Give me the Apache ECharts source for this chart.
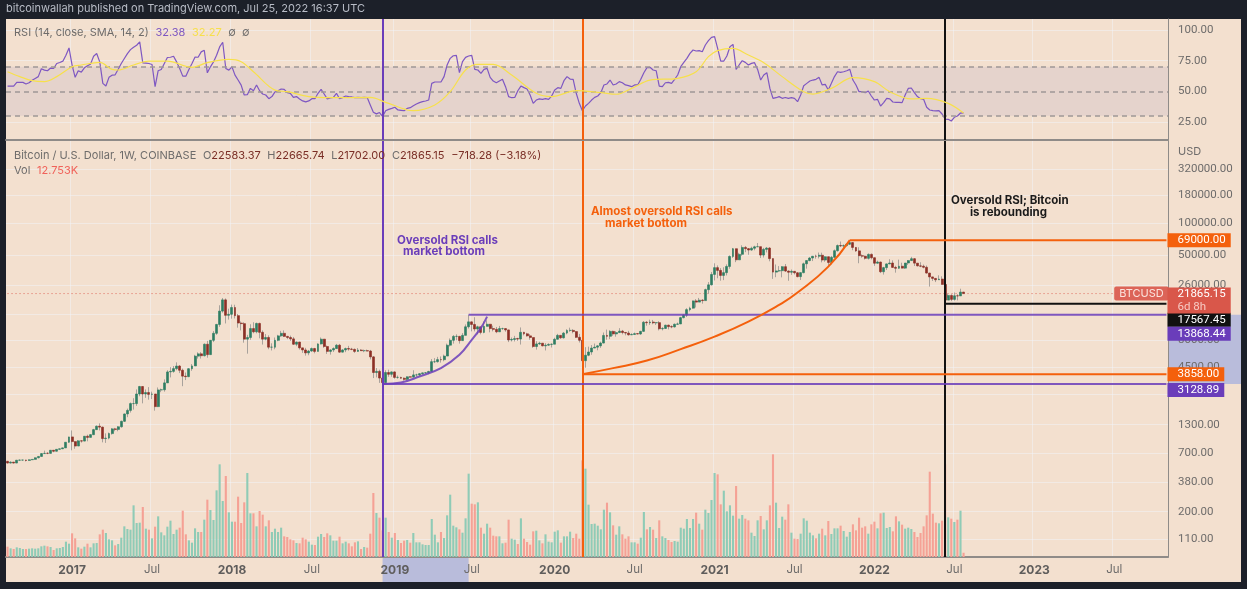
<!DOCTYPE html>
<html>
<head>
<meta charset="utf-8">
<title>BTCUSD weekly</title>
<script src="https://cdn.jsdelivr.net/npm/echarts@6/dist/echarts.min.js"></script>
<style>
    html, body { margin: 0; padding: 0; background: #1c2029; }
    #chart { width: 1247px; height: 589px; }
</style>
</head>
<body>
<div id="chart"></div>
<script>
// weekly candles, first one is the week of 2016-08-08
const opens = [
    592,570,581,570,606,608,608,603,612,617,639,657,699,
    703,702,751,735,766,775,790,892,1000,905,822,920,915,
    1015,990,1050,1170,1260,1235,965,975,1075,1190,1175,1245,1400,
    1640,1770,2050,2050,2520,2960,2520,2600,2500,2520,1920,2750,2760,
    3200,4050,4100,4350,4600,4200,3700,3660,4340,4610,5690,5980,5740,
    7350,5880,8000,9300,11250,15000,19100,13700,14000,16200,13600,11600,11450,
    8200,8500,10300,9600,11500,9500,8200,8500,6900,6900,8000,8800,9300,
    8700,8500,8250,7350,7700,6800,6500,6100,6350,6700,6300,7400,8200,
    7000,6300,6500,6700,7200,6200,6500,6700,6620,6580,6300,6490,6400,
    6400,6350,5600,4000,4100,3550,3220,4000,3850,4050,3600,3600,3540,
    3450,3650,3620,3800,3800,3900,3970,3980,4090,5050,5050,5280,5270,
    5700,7200,8000,8700,8700,7950,8900,10700,11900,11250,10200,10700,9480,
    10800,11300,10300,10130,9600,10300,10300,10000,8050,8150,8300,8220,9500,
    9200,8800,8500,7000,7400,7520,7100,7200,7320,7350,8180,8900,8440,
    9340,9900,9900,9660,8530,8000,5160,5800,6220,6770,6900,7100,7540,
    8880,8720,9700,9180,9450,9750,9460,9350,9000,9070,9230,9160,9700,
    11800,11680,11850,11650,11700,10250,10320,11080,10740,10670,11300,11370,13030,
    13750,15480,15970,18680,18200,19000,18800,23800,26400,33000,38200,36000,32300,
    34300,39200,48600,57400,45200,50900,59000,57500,55800,58000,59800,60000,50100,
    56600,58200,46400,34700,35600,35800,39000,35500,34600,35300,34200,31500,34300,
    41500,44500,47000,48900,48800,49900,45000,48300,42700,47700,55000,61500,60900,
    61300,63200,65500,59000,54800,49400,48900,46700,50800,47300,42000,43100,35000,
    38200,41400,42200,38400,37700,39400,37800,42200,44500,46300,42100,39700,39400,
    38500,34000,31300,30300,29400,29900,26600,19000,21000,19300,20850,20800,22583.37
];
const closes = [
    570,581,570,606,608,608,603,612,617,639,657,699,703,
    702,751,735,766,775,790,892,1000,905,822,920,915,1015,
    990,1050,1170,1260,1235,965,975,1075,1190,1175,1245,1400,1640,
    1770,2050,2050,2520,2960,2520,2600,2500,2520,1920,2750,2760,3200,
    4050,4100,4350,4600,4200,3700,3660,4340,4610,5690,5980,5740,7350,
    5880,8000,9300,11250,15000,19100,13700,14000,16200,13600,11600,11450,8200,
    8500,10300,9600,11500,9500,8200,8500,6900,6900,8000,8800,9300,8700,
    8500,8250,7350,7700,6800,6500,6100,6350,6700,6300,7400,8200,7000,
    6300,6500,6700,7200,6200,6500,6700,6620,6580,6300,6490,6400,6400,
    6350,5600,4000,4100,3550,3220,4000,3850,4050,3600,3600,3540,3450,
    3650,3620,3800,3800,3900,3970,3980,4090,5050,5050,5280,5270,5700,
    7200,8000,8700,8700,7950,8900,10700,11900,11250,10200,10700,9480,10800,
    11300,10300,10130,9600,10300,10300,10000,8050,8150,8300,8220,9500,9200,
    8800,8500,7000,7400,7520,7100,7200,7320,7350,8180,8900,8440,9340,
    9900,9900,9660,8530,8000,5160,5800,6220,6770,6900,7100,7540,8880,
    8720,9700,9180,9450,9750,9460,9350,9000,9070,9230,9160,9700,11800,
    11680,11850,11650,11700,10250,10320,11080,10740,10670,11300,11370,13030,13750,
    15480,15970,18680,18200,19000,18800,23800,26400,33000,38200,36000,32300,34300,
    39200,48600,57400,45200,50900,59000,57500,55800,58000,59800,60000,50100,56600,
    58200,46400,34700,35600,35800,39000,35500,34600,35300,34200,31500,34300,41500,
    44500,47000,48900,48800,49900,45000,48300,42700,47700,55000,61500,60900,61300,
    63200,65500,59000,54800,49400,48900,46700,50800,47300,42000,43100,35000,38200,
    41400,42200,38400,37700,39400,37800,42200,44500,46300,42100,39700,39400,38500,
    34000,31300,30300,29400,29900,26600,19000,21000,19300,20850,20800,22583.37,21865.15
];
const highs = [
    597,592,585,610,615,612,612,615,620,642,660,705,745,
    720,755,755,770,780,795,895,1005,1150,908,935,930,1020,
    1050,1060,1190,1280,1340,1250,1080,1100,1210,1215,1260,1420,1650,
    1840,2100,2300,2780,3000,2980,2780,2920,2650,2420,2900,2830,3450,
    4200,4480,4600,4980,4700,4350,4000,4400,4800,5850,6180,6200,7480,
    7900,8050,9750,11400,17000,19890,19700,15800,17250,17200,14100,12000,11800,
    9000,11300,11800,11700,11700,9900,9150,8900,7500,8500,9000,9800,9900,
    8800,8850,8600,7800,7750,6800,6800,6500,6850,6800,7500,8500,8250,
    7150,6600,6880,7400,7400,6600,6840,7100,6800,6700,6780,6620,6550,
    6550,6500,5700,4400,4250,3600,4200,4250,4100,4100,3750,3650,3600,
    3680,3700,4200,3900,3950,4000,4030,4150,5340,5450,5600,5650,5880,
    7450,8330,8950,9100,8800,9350,11250,13880,12000,13150,10950,10150,12000,
    12300,11400,10950,10650,10900,10500,10350,10050,8500,8800,8450,10550,9600,
    9400,9150,8400,7850,7750,7400,7520,7500,7500,8450,9190,8900,9570,
    10150,10500,10170,9700,9180,8180,6900,6980,7220,7460,7200,7760,9460,
    10070,9950,9850,9750,10390,10000,9580,9800,9300,9450,9330,9800,12100,
    12100,12480,12400,11800,12080,10640,11180,11200,11050,11480,11720,13250,14080,
    15970,16480,18800,19400,19920,19400,24300,28000,34800,41950,40100,37800,38500,
    41000,49700,58350,57500,52600,61800,60900,58300,60000,61200,64900,57500,58500,
    59600,59500,46600,40900,39500,39500,41300,36000,36700,35400,34700,34500,42600,
    44700,48100,49000,50500,52900,52700,48800,48400,49200,56500,62900,67000,63000,
    64300,69000,66300,59500,59200,50800,49500,51900,51900,47500,44400,43500,38900,
    41700,45800,44700,39800,45400,42500,42300,44900,48200,46900,41500,42900,40800,
    40000,34250,31400,30600,32400,31700,26900,21900,21550,22400,21550,24280,22665.74
];
const lows = [
    565,565,565,570,600,600,590,600,607,615,630,655,695,
    690,700,720,730,760,770,790,880,750,775,875,885,910,
    910,990,1040,1160,1150,890,880,950,1050,1130,1130,1220,1380,
    1530,1690,1800,1950,2400,2060,2320,2230,2260,1760,1900,2620,2650,
    3200,3600,3980,4200,3950,2980,3400,3620,4150,4600,5400,5400,5650,
    5500,5860,7700,9000,10700,14500,11500,12500,12750,12800,10500,9900,7600,
    6000,8100,9300,9300,8350,7300,8000,6600,6430,6600,7850,8600,8600,
    8200,7900,7250,7050,6550,6100,5750,5800,6250,6050,6300,7300,6800,
    5970,5880,6230,6650,6100,6150,6200,6400,6470,6100,6250,6350,6200,
    6300,5300,3550,3600,3200,3128.89,3200,3650,3650,3500,3500,3500,3360,
    3370,3580,3600,3650,3700,3810,3880,3850,4050,4900,4950,4950,5100,
    5700,7000,7450,8000,7450,7950,8900,10300,9700,9700,9100,9100,9300,
    10800,9500,9700,9330,9600,10000,9620,7700,7800,7800,7900,7300,8900,
    8650,8100,6800,6550,7250,7020,6430,7100,6850,7650,8150,8250,8300,
    9100,9600,9300,8400,7630,3858,4440,5680,5860,6800,6450,6800,7500,
    8100,8200,8800,8650,9350,9100,8900,8850,8950,9000,9100,9000,9600,
    10950,11150,11300,11130,9900,9900,10200,10120,10370,10530,11180,11350,12800,
    13200,14900,15800,16200,18200,17600,19000,21800,26000,29000,30400,28850,29200,
    32300,37300,47000,43000,45000,49300,53300,50400,54900,55500,59800,47000,47500,
    53000,43800,30000,31100,34800,31000,34800,28800,32700,33000,31000,29300,33800,
    37400,43800,44000,46400,46600,42800,43400,39700,40900,47100,53900,59500,57800,
    60100,62300,55600,53600,42000,47300,45500,45500,45650,39700,41700,34000,32900,
    36300,41100,38000,34300,37200,37600,37200,40500,44100,39600,39200,38600,37600,
    33700,25400,28700,28000,29300,26600,17567.45,19900,18600,18800,18900,20750,21702
];
// volume in thousands
const volumes = [
    31,26,24,29,27,24,24,25,26,25,26,32,34,
    32,30,21,26,27,30,46,40,71,56,29,25,31,
    40,29,41,42,68,82,72,53,50,35,39,58,92,
    84,82,155,102,103,150,85,82,56,91,122,74,65,
    91,109,69,82,88,139,68,50,43,86,75,75,112,
    172,141,111,200,278,168,243,134,106,106,181,102,164,
    252,131,131,92,138,127,92,110,75,85,75,88,62,
    60,53,50,42,41,58,53,46,37,36,61,69,60,
    71,65,49,49,61,41,46,41,32,44,47,24,30,
    28,70,192,132,118,80,118,75,58,72,51,42,49,
    51,43,72,44,44,38,36,36,114,67,44,75,57,
    125,187,94,89,83,73,116,250,160,158,164,88,70,
    100,88,64,62,62,41,43,112,55,52,39,116,55,
    45,37,77,79,50,41,68,46,44,76,80,43,62,
    62,76,57,70,55,290,265,157,99,100,94,83,142,
    163,134,95,67,92,68,55,62,44,44,40,58,135,
    83,90,82,57,110,62,57,51,45,48,46,88,85,
    114,87,114,133,100,82,142,132,171,252,248,158,199,
    137,155,124,213,115,126,115,110,73,63,110,123,83,
    110,155,308,163,87,121,112,158,73,55,54,70,116,
    109,73,65,56,70,85,65,108,69,86,86,94,78,
    61,75,98,80,118,88,92,70,98,106,86,131,133,
    87,90,77,122,107,97,85,88,84,75,60,72,92,
    125,256,130,103,101,109,278,119,115,105,112,139,12.75
];
const rsiValues = [
    54.3,54.3,54.3,57.3,57.3,57.3,56,57,59,60.5,62,68.4,67.3,
    66.8,69,68.6,72.7,73.5,74.6,79.5,85.4,71.4,61.4,66.8,65.7,69.2,
    70.8,72.2,78.6,80.8,74,56.5,54.3,61.4,63.2,63.5,68,72.7,76.8,
    80.8,84,86,87.6,90.3,73.2,73,72.7,71.9,53.8,66.8,67.8,72.7,
    77.6,77.8,78.6,74,68.6,62.4,62.4,67.8,72.7,78,77.8,82.2,83.5,
    65.1,70,74,79.5,86.2,90,68.6,67.3,70,63.2,59.2,55.1,47,
    47.3,52.4,50.5,55.1,50.5,47.8,47,44,45.7,49.5,50.5,51.9,51.6,
    48.9,48.4,45.1,45.7,43.8,42.2,41.4,42.2,44,44,48.4,51.6,47.8,
    43.8,44.6,45.1,48.4,44,44.9,46.2,45.7,45.4,44.9,45.1,44.9,45.1,
    44.9,38.9,33,31.6,32.7,29.5,34.2,35.3,36.1,37,34.8,34.5,34.2,
    36.1,36.7,38.3,39.7,40.8,41.6,42.1,42.9,56.5,57.6,57.6,57.6,62,
    71.5,76.9,79,79.3,65.2,74.2,77.7,78.8,79.3,67.9,67.4,64.7,67.9,
    68.7,61.4,58.4,57,58.4,59.8,53.8,45.7,44.8,45,50.5,54.3,53,
    51.9,47,40.2,42.9,43.8,43.5,44,43.5,46.2,51.1,53,52.4,58.7,
    62,60,59.8,48.4,40.2,34.2,38,40.2,42.9,45.1,46.2,48.9,55.2,
    56,59.2,55.2,56,57.9,57,55.2,54.6,53.8,55.2,55.2,59.8,65.2,
    69.3,69.6,67.4,66.8,54.3,53.8,57,57.3,56.5,59.8,63.3,70.1,73.6,
    76.9,81,83.7,82.9,83.2,82.3,87.8,91.3,94,94.6,85,74.7,74.7,
    78.8,86.4,88.3,67.9,71.5,75,73.6,71.5,72.8,73.4,67.9,59.2,63.3,
    65.2,52.4,44.3,44.8,45.7,44.3,45,44.3,44.8,44.3,41.6,47,54.6,
    56.5,58.4,59.2,59.8,61.4,55.2,55.7,51.1,56.5,62,66,65.5,66,
    66.8,67.9,59.2,55.2,49.7,49.7,48.9,50.3,46.2,42.9,43.5,38,40.8,
    44.3,43.8,41.3,41,41,40.8,47,52.4,52.7,48.9,45.7,44,43.5,
    37,34.8,34.2,34,34.2,31.5,27.4,27.2,25.8,28.8,29.9,32.3,32.38
];
const rsiMa = [
    [0,66],[4,62],[8,58.7],[12,57.9],[16,62],[21,70.1],[24,71.5],[30,73.6],[34,67.9],[36,67.4],
    [41,71.5],[46,74.7],[52,74.7],[60,69.6],[65,73.4],[72,76],[76,74.2],[80,66],[87,51],[91,49.7],
    [98,45.7],[105,44.8],[118,45],[123,41],[130,34.8],[132,34.2],[139,38.9],[144,49.7],[149,67.4],
    [153,72],[158,72],[164,63.3],[172,48.4],[177,45.7],[185,50.5],[193,48.9],[198,47.6],[203,52.4],
    [209,59.2],[218,60.6],[224,66],[228,78.3],[231,83.2],[236,85],[241,79.6],[246,73.4],[252,62],
    [259,49.7],[262,47.8],[268,52.4],[275,61.1],[282,57.9],[287,49.7],[294,43.8],[299,44.3],
    [306,40.2],[311,32.27]
];
// drawn curves [week index, price]
const purpleCurve = [[122,3128.89],[128,3225],[134,3670],[141,4395],[147,5850],[151,8080],[154,10460],[156,13330]];
const orangeCurve = [[187,3858],[197,4395],[208,5175],[219,6615],[230,8670],[241,11970],[251,17150],[257,22340],[267,39060],[274,69000]];

const rsiTicks = [25, 50, 75, 100];
const priceTicks = [320000, 180000, 100000, 50000, 26000, 14000, 8000, 4500, 2500, 1300, 700, 380, 200, 110];
const timeTickDates = ['2017-01-02','2017-07-03','2018-01-01','2018-07-02','2019-01-07','2019-07-01','2020-01-06','2020-07-06','2021-01-04','2021-07-05','2022-01-03','2022-07-04','2023-01-02','2023-07-03'];
const timeTickLabels = ['2017','Jul','2018','Jul','2019','Jul','2020','Jul','2021','Jul','2022','Jul','2023','Jul'];

const WEEK_SLOTS = 378;
const PURPLE_WEEK = 122, ORANGE_WEEK = 187, BLACK_WEEK = 305, LAST_SLOT = WEEK_SLOTS - 1;
const PURPLE_END_WEEK = 150;
const lastPrice = 21865.15;
const lowBox = 3128.89, midBox = 13868.44, blackLow = 17567.45, orangeLow = 3858, topLine = 69000;

const PURPLE = '#6a3dba', ORANGE = '#f4600c', BLACK = '#111111', RED = '#d9574a';
const FONT = 'Inter, Roboto, sans-serif', NUM_FONT = 'Roboto, sans-serif';
const AXIS_COLOR = '#6e6c6b', GRID_COLOR = 'rgba(242,243,250,0.5)', PANE_LINE = '#8f8b88';

// week axis, runs past the last candle into empty space
const weeks = [];
for (let i = 0; i < WEEK_SLOTS; i++) {
    const d = new Date(Date.UTC(2016, 7, 8 + i * 7));
    weeks.push(d.toISOString().slice(0, 10));
}
const isTimeTick = function (index, value) { return timeTickDates.indexOf(value) >= 0 };

const chart = echarts.init(document.getElementById('chart'));

const candleData = opens.map((o, i) => [o, closes[i], lows[i], highs[i]]);
const bodyData = opens.map((o, i) => [o, closes[i], Math.min(o, closes[i]), Math.max(o, closes[i])]);
const volumeData = volumes.map((v, i) => ({
    value: v,
    itemStyle: { color: closes[i] >= opens[i] ? '#8fcbb6' : '#f5a195' }
}));

function vLine(week, color, xi, yi) {
    return {
        type: 'line', xAxisIndex: xi, yAxisIndex: yi, data: [], z: 8, silent: true,
        markLine: {
            silent: true, symbol: 'none', animation: false,
            label: { show: false },
            lineStyle: { color: color, width: 2, type: 'solid' },
            data: [{ xAxis: week }]
        }
    };
}

// horizontal level from a start week to the price scale, with its tag on the axis
function levelLine(startWeek, price, color, width, tagText, tagOffset, lineOpacity) {
    return {
        type: 'line', xAxisIndex: 1, yAxisIndex: 1, z: 7, silent: true, symbol: 'none',
        lineStyle: { color: color, width: width, opacity: lineOpacity || 1 },
        data: [[startWeek, price], [LAST_SLOT, price]],
        endLabel: {
            show: true, distance: 1, offset: [0, tagOffset],
            formatter: tagText, color: '#ffffff', backgroundColor: color,
            fontFamily: NUM_FONT, fontSize: 11.5, lineHeight: 14, padding: [0, 5, 0, 10]
        }
    };
}

const option = {
    animation: false,
    backgroundColor: '#1c2029',
    grid: [
        { left: 6, top: 19, width: 1162, height: 121 },
        { left: 6, top: 141, width: 1162, height: 416 },
        { left: 6, top: 453, width: 1162, height: 104 }
    ],
    xAxis: [
        {
            type: 'category', gridIndex: 0, data: weeks,
            axisLine: { lineStyle: { color: PANE_LINE, width: 2 } },
            axisTick: { show: false }, axisLabel: { show: false },
            splitLine: { show: true, interval: isTimeTick, lineStyle: { color: GRID_COLOR } }
        },
        {
            type: 'category', gridIndex: 1, data: weeks,
            axisLine: { lineStyle: { color: PANE_LINE, width: 2 } },
            axisTick: { show: false },
            axisLabel: {
                show: true, interval: isTimeTick, margin: 7, hideOverlap: false,
                formatter: function (value) {
                    const t = timeTickLabels[timeTickDates.indexOf(value)];
                    return t === 'Jul' ? '{m|' + t + '}' : '{y|' + t + '}';
                },
                rich: {
                    y: { fontFamily: FONT, fontSize: 12, fontWeight: 'bold', color: '#5f5d5c' },
                    m: { fontFamily: FONT, fontSize: 11.5, color: AXIS_COLOR }
                }
            },
            splitLine: { show: true, interval: isTimeTick, lineStyle: { color: GRID_COLOR } }
        },
        {
            type: 'category', gridIndex: 2, data: weeks, show: false
        }
    ],
    yAxis: [
        {
            type: 'value', gridIndex: 0, position: 'right', min: 10.3, max: 109,
            axisLine: { show: true, lineStyle: { color: PANE_LINE } },
            axisTick: { show: false, customValues: rsiTicks },
            axisLabel: {
                customValues: rsiTicks, margin: 10, color: AXIS_COLOR, fontFamily: NUM_FONT, fontSize: 11.5,
                formatter: v => Number(v).toFixed(2)
            },
            splitLine: { show: true, lineStyle: { color: GRID_COLOR } }
        },
        {
            type: 'log', gridIndex: 1, position: 'right', min: 75.5, max: 583000, logBase: 10,
            axisLine: { show: true, lineStyle: { color: PANE_LINE } },
            axisTick: { show: false, customValues: priceTicks },
            axisLabel: {
                customValues: priceTicks, margin: 10, color: AXIS_COLOR, fontFamily: NUM_FONT, fontSize: 11.5,
                formatter: v => Number(v).toFixed(2)
            },
            splitLine: { show: true, lineStyle: { color: GRID_COLOR } }
        },
        {
            type: 'value', gridIndex: 2, position: 'right', min: 0, max: 312, show: false,
            splitLine: { show: false }
        }
    ],
    series: [
        {
            name: 'RSI', type: 'line', xAxisIndex: 0, yAxisIndex: 0, z: 4, data: rsiValues,
            symbol: 'none', silent: true,
            lineStyle: { color: '#7e57c2', width: 1.2 },
            markArea: {
                silent: true, animation: false,
                itemStyle: { color: '#e5d3cc' },
                data: [[{ yAxis: 70 }, { yAxis: 30 }]]
            },
            markLine: {
                silent: true, symbol: 'none', animation: false,
                label: { show: false },
                lineStyle: { color: '#9e9896', type: [5, 4], width: 1.5 },
                data: [{ yAxis: 70 }, { yAxis: 50 }, { yAxis: 30 }]
            }
        },
        {
            name: 'RSI MA', type: 'line', xAxisIndex: 0, yAxisIndex: 0, z: 5, data: rsiMa,
            symbol: 'none', smooth: 0.35, silent: true,
            lineStyle: { color: '#f7e04b', width: 1.2 }
        },
        {
            name: 'Volume', type: 'bar', xAxisIndex: 2, yAxisIndex: 2, z: 2, data: volumeData,
            barWidth: 2.1, silent: true
        },
        {
            name: 'Wicks', type: 'candlestick', xAxisIndex: 1, yAxisIndex: 1, z: 3, silent: true,
            data: candleData, barWidth: 0.6,
            itemStyle: { color: '#a8a29c', color0: '#a8a29c', borderColor: '#a8a29c', borderColor0: '#a8a29c', borderWidth: 1 }
        },
        {
            name: 'BTCUSD', type: 'candlestick', xAxisIndex: 1, yAxisIndex: 1, z: 4, silent: true,
            data: bodyData, barWidth: 2.4,
            itemStyle: { color: '#2e7d62', color0: '#8c2f25', borderColor: '#2e7d62', borderColor0: '#8c2f25', borderWidth: 0.6 }
        },
        {
            name: 'Last price', type: 'line', xAxisIndex: 1, yAxisIndex: 1, z: 3, silent: true, symbol: 'none',
            lineStyle: { color: '#de6a5c', width: 1, type: [1, 3] },
            data: [[0, lastPrice], [360, lastPrice]],
            endLabel: {
                show: true, distance: 0, formatter: 'BTCUSD',
                color: '#fbe3dd', backgroundColor: 'rgba(217,87,74,0.9)', borderRadius: 2,
                fontFamily: FONT, fontSize: 11, lineHeight: 14, padding: [0, 5]
            }
        },
        {
            name: 'Last price tag', type: 'line', xAxisIndex: 1, yAxisIndex: 1, z: 9, silent: true, symbol: 'none',
            lineStyle: { width: 0 },
            data: [[LAST_SLOT - 1, lastPrice], [LAST_SLOT, lastPrice]],
            endLabel: {
                show: true, distance: 1, offset: [0, 7],
                formatter: '{a|21865.15}\n{b|6d 8h}', backgroundColor: RED, padding: [0, 5, 0, 10],
                rich: {
                    a: { color: '#ffffff', fontFamily: NUM_FONT, fontSize: 11.5, lineHeight: 13 },
                    b: { color: '#f7c9c2', fontFamily: NUM_FONT, fontSize: 11.5, lineHeight: 13 }
                }
            }
        },
        levelLine(274, topLine, ORANGE, 2, '69000.00', 0),
        levelLine(BLACK_WEEK, blackLow, BLACK, 2, '17567.45', 16),
        levelLine(PURPLE_END_WEEK, midBox, PURPLE, 2, '13868.44', 19, 0.85),
        levelLine(ORANGE_WEEK, orangeLow, ORANGE, 2, '3858.00', 0),
        levelLine(PURPLE_WEEK, lowBox, PURPLE, 2, '3128.89', 6, 0.85),
        {
            name: 'Purple curve', type: 'line', xAxisIndex: 1, yAxisIndex: 1, z: 7, silent: true,
            symbol: 'none', smooth: 0.4, data: purpleCurve, lineStyle: { color: PURPLE, width: 2, opacity: 0.85 }
        },
        {
            name: 'Orange curve', type: 'line', xAxisIndex: 1, yAxisIndex: 1, z: 7, silent: true,
            symbol: 'none', smooth: 0.5, data: orangeCurve, lineStyle: { color: ORANGE, width: 2 }
        },
        vLine(PURPLE_WEEK, PURPLE, 0, 0), vLine(ORANGE_WEEK, ORANGE, 0, 0), vLine(BLACK_WEEK, BLACK, 0, 0),
        vLine(PURPLE_WEEK, PURPLE, 1, 1), vLine(ORANGE_WEEK, ORANGE, 1, 1), vLine(BLACK_WEEK, BLACK, 1, 1)
    ]
};

chart.setOption(option);

// panel, selection bands and texts go on after the scales exist
const yBandTop = chart.convertToPixel({ yAxisIndex: 1 }, midBox);
const yBandBottom = chart.convertToPixel({ yAxisIndex: 1 }, lowBox);
const xBandLeft = chart.convertToPixel({ xAxisIndex: 1 }, PURPLE_WEEK);
const xBandRight = chart.convertToPixel({ xAxisIndex: 1 }, PURPLE_END_WEEK);

function label(x, y, text, color, size, weight) {
    return {
        type: 'text', x: x, y: y, z: 20, silent: true,
        style: { text: text, fill: color, fontFamily: FONT, fontSize: size || 11, fontWeight: weight || 'normal', textVerticalAlign: 'middle' }
    };
}

chart.setOption({
    graphic: [
        { type: 'rect', z: -2, silent: true, shape: { x: 6, y: 19, width: 1235, height: 563 }, style: { fill: '#f3e0cf' } },
        { type: 'rect', z: -1, silent: true, shape: { x: 1168, y: yBandTop, width: 73, height: yBandBottom - yBandTop }, style: { fill: '#b9bcdb' } },
        { type: 'rect', z: -1, silent: true, shape: { x: xBandLeft, y: 558, width: xBandRight - xBandLeft, height: 24 }, style: { fill: '#b9bcdb' } },
        label(6, 9, 'bitcoinwallah published on TradingView.com, Jul 25, 2022 16:37 UTC', '#b8bcc6', 11),
        {
            type: 'text', x: 14, y: 33, z: 20, silent: true,
            style: {
                text: '{g|RSI (14, close, SMA, 14, 2)}  {p|32.38}  {y|32.27}  {g|∅  ∅}',
                textVerticalAlign: 'middle',
                rich: {
                    g: { fill: '#6e6c6b', fontFamily: FONT, fontSize: 11 },
                    p: { fill: '#7e57c2', fontFamily: FONT, fontSize: 11 },
                    y: { fill: '#f7e04b', fontFamily: FONT, fontSize: 11 }
                }
            }
        },
        {
            type: 'text', x: 14, y: 156, z: 20, silent: true,
            style: {
                text: '{g|Bitcoin / U.S. Dollar, 1W, COINBASE}  {g|O}{r|22583.37}  {g|H}{r|22665.74}  {g|L}{r|21702.00}  {g|C}{r|21865.15}  {r|−718.28 (−3.18%)}',
                textVerticalAlign: 'middle',
                rich: {
                    g: { fill: '#6e6c6b', fontFamily: FONT, fontSize: 11 },
                    r: { fill: '#7a2e26', fontFamily: FONT, fontSize: 11 }
                }
            }
        },
        {
            type: 'text', x: 14, y: 171, z: 20, silent: true,
            style: {
                text: '{g|Vol}  {r|12.753K}',
                textVerticalAlign: 'middle',
                rich: {
                    g: { fill: '#6e6c6b', fontFamily: FONT, fontSize: 11 },
                    r: { fill: '#f0625a', fontFamily: FONT, fontSize: 11 }
                }
            }
        },
        label(1178, 152, 'USD', AXIS_COLOR, 11),
        label(397, 241, 'Oversold RSI calls', PURPLE, 11.5, 'bold'),
        label(403, 252, 'market bottom', PURPLE, 11.5, 'bold'),
        label(591, 212, 'Almost oversold RSI calls', ORANGE, 11.5, 'bold'),
        label(605, 224, 'market bottom', ORANGE, 11.5, 'bold'),
        label(951, 201, 'Oversold RSI; Bitcoin', '#1a1a1a', 11.5, 'bold'),
        label(970, 213, 'is rebounding', '#1a1a1a', 11.5, 'bold')
    ]
});

window.addEventListener("resize", function () {
    chart.resize()
})
</script>
</body>
</html>
